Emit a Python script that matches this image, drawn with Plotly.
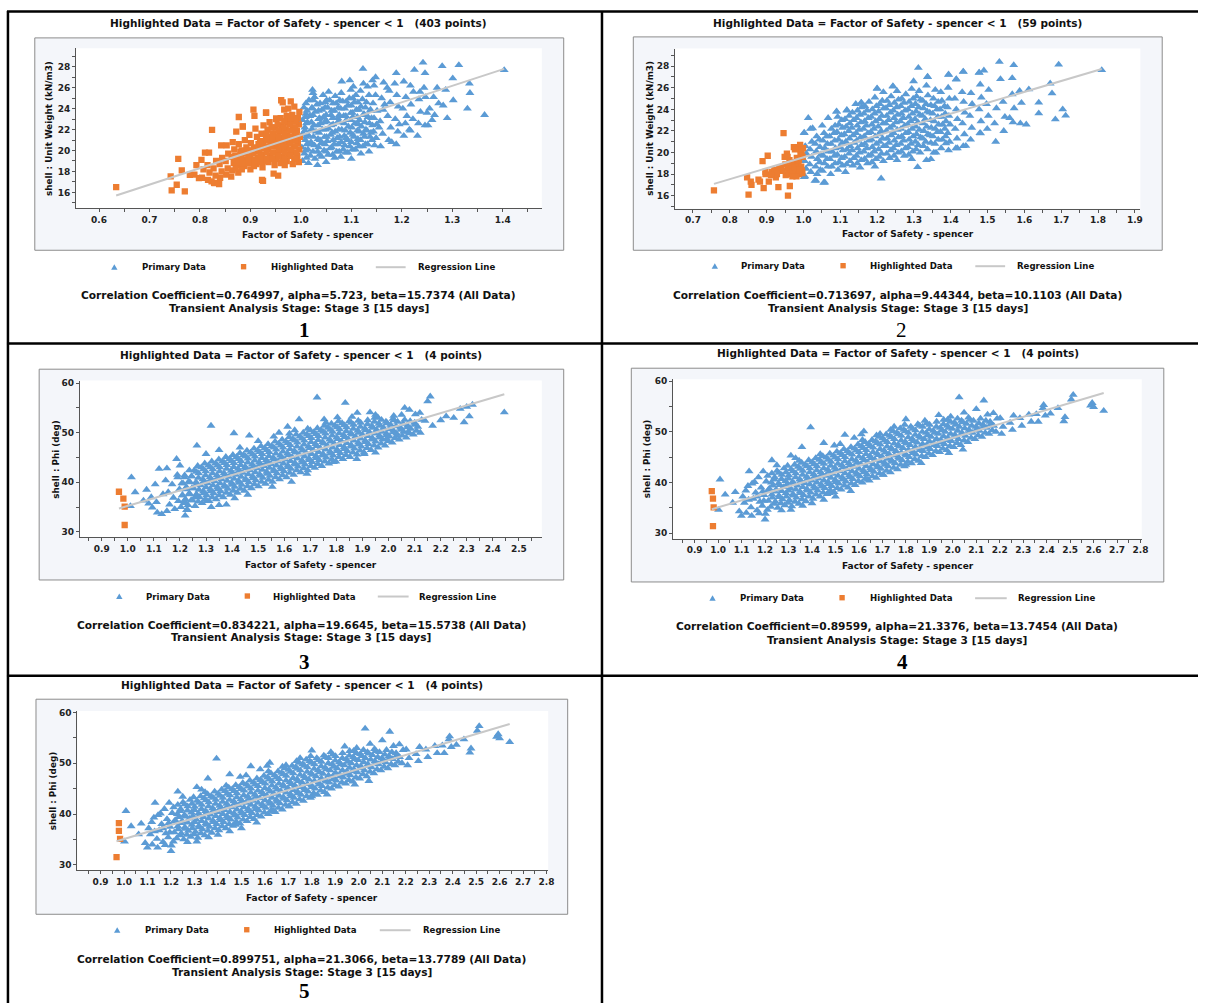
import plotly.graph_objects as go

W, H = 1205, 1003

BLUE = '#5b9bd5'
ORANGE = '#ed7d31'
REG = '#c8c8c8'
AX = '#555555'
FONT = 'DejaVu Sans'

# ---------------- data ----------------
P1_PRIMARY = [
    (1.003,19.0),(1.007,19.7),(1.002,20.3),(1.009,21.0),(1.004,21.6),(1.008,22.2),(1.003,22.9),(1.010,23.5),(1.006,24.1),
    (1.015,18.8),(1.019,19.5),(1.014,20.1),(1.020,20.8),(1.016,21.4),(1.021,22.0),(1.013,22.7),(1.018,23.3),(1.022,24.0),(1.016,24.8),(1.024,25.5),
    (1.028,19.2),(1.033,19.9),(1.027,20.5),(1.034,21.1),(1.030,21.8),(1.026,22.4),(1.035,23.0),(1.029,23.7),(1.032,24.4),(1.027,25.1),(1.023,25.8),(1.033,18.6),
    (1.041,19.4),(1.046,20.0),(1.040,20.7),(1.047,21.3),(1.043,22.0),(1.039,22.6),(1.045,23.2),(1.042,23.9),(1.048,24.6),(1.044,25.3),
    (1.054,19.6),(1.058,20.2),(1.052,20.9),(1.059,21.5),(1.055,22.1),(1.051,22.8),(1.060,23.4),(1.053,24.1),(1.057,24.8),(1.055,25.6),(1.050,18.9),
    (1.067,19.3),(1.071,19.9),(1.066,20.6),(1.072,21.2),(1.068,21.8),(1.064,22.5),(1.073,23.1),(1.066,23.8),(1.070,24.5),(1.068,25.2),
    (1.079,19.4),(1.084,20.1),(1.080,20.8),(1.086,21.4),(1.081,22.0),(1.077,22.7),(1.085,23.3),(1.079,24.0),(1.083,24.7),(1.080,25.5),(1.081,26.6),
    (1.093,19.8),(1.097,20.4),(1.092,21.0),(1.098,21.7),(1.094,22.3),(1.090,22.9),(1.099,23.6),(1.093,24.3),(1.096,25.0),(1.099,25.8),(1.097,26.7),(1.100,19.2),
    (1.108,20.1),(1.111,20.7),(1.105,21.3),(1.112,21.9),(1.107,22.6),(1.103,23.2),(1.110,23.9),(1.106,24.6),(1.109,25.3),(1.104,26.1),
    (1.119,19.7),(1.123,20.4),(1.118,21.0),(1.124,21.6),(1.120,22.3),(1.116,22.9),(1.125,23.5),(1.119,24.2),(1.122,24.9),(1.118,25.7),(1.124,26.4),(1.123,27.8),
    (1.135,19.9),(1.132,20.6),(1.137,21.3),(1.131,21.9),(1.136,22.6),(1.133,23.2),(1.138,23.9),(1.130,24.6),(1.135,25.3),(1.132,26.1),
    (1.146,20.5),(1.149,21.2),(1.144,21.8),(1.150,22.5),(1.145,23.1),(1.151,23.8),(1.143,24.5),(1.148,25.3),(1.145,26.2),(1.148,27.0),(1.142,26.7),
    (1.158,20.4),(1.162,21.6),(1.157,22.8),(1.163,23.9),(1.160,25.0),(1.164,26.5),(1.155,22.2),(1.166,24.4),
    (1.174,21.0),(1.178,22.2),(1.172,23.3),(1.177,24.6),(1.175,25.7),(1.180,20.8),(1.171,26.0),
    (1.189,20.6),(1.192,21.8),(1.187,23.0),(1.193,24.2),(1.190,25.3),(1.186,26.4),(1.189,27.4),(1.195,22.5),
    (1.204,21.4),(1.207,22.6),(1.202,24.0),(1.208,25.1),(1.204,26.6),(1.210,23.3),
    (1.217,21.9),(1.222,23.0),(1.218,24.4),(1.223,25.6),(1.217,26.2),(1.225,27.7),(1.215,22.0),
    (1.233,22.6),(1.237,23.7),(1.234,24.9),(1.236,25.6),(1.231,21.4),
    (1.246,22.4),(1.250,23.6),(1.247,25.1),(1.246,27.4),(1.242,28.4),
    (1.263,25.1),(1.273,24.5),(1.280,28.06),(1.287,25.8),(1.290,23.1),(1.301,26.9),(1.302,24.8),(1.313,28.16),
    (1.330,24.0),(1.334,26.4),(1.335,25.5),(1.364,23.4),(1.403,27.68),(1.260,22.9),(1.270,26.0),(1.255,24.0),
    (1.252,22.4),(1.265,23.4),(1.244,26.0),(1.282,24.3),
    # dense core
    (1.011,19.3),(1.009,20.0),(1.012,20.6),(1.010,21.3),(1.008,21.9),(1.011,22.6),(1.009,23.2),(1.012,23.8),(1.010,24.5),
    (1.024,19.9),(1.022,20.6),(1.025,21.3),(1.023,22.0),(1.021,22.7),(1.024,23.4),(1.022,24.1),(1.025,24.8),
    (1.037,19.6),(1.035,20.3),(1.038,21.0),(1.036,21.7),(1.034,22.4),(1.037,23.1),(1.035,23.8),(1.038,24.5),
    (1.050,19.9),(1.048,20.6),(1.051,21.3),(1.049,22.0),(1.047,22.7),(1.050,23.4),(1.048,24.1),(1.051,24.8),
    (1.063,19.6),(1.061,20.3),(1.064,21.0),(1.062,21.7),(1.060,22.4),(1.063,23.1),(1.061,23.8),(1.064,24.5),
    (1.076,19.9),(1.074,20.6),(1.077,21.3),(1.075,22.0),(1.073,22.7),(1.076,23.4),(1.074,24.1),(1.077,24.8),
    (1.089,19.8),(1.087,20.5),(1.090,21.2),(1.088,21.9),(1.086,22.6),(1.089,23.3),(1.087,24.0),(1.090,24.7),
    (1.102,20.1),(1.100,20.8),(1.103,21.5),(1.101,22.2),(1.099,22.9),(1.102,23.6),(1.100,24.3),(1.103,25.0),
    (1.115,20.4),(1.113,21.1),(1.116,21.8),(1.114,22.5),(1.112,23.2),(1.115,23.9),(1.113,24.6),
    (1.128,20.6),(1.126,21.3),(1.129,22.0),(1.127,22.7),(1.125,23.4),(1.128,24.1),
    (1.141,21.0),(1.139,21.7),(1.142,22.4),(1.140,23.1),(1.138,23.8),
]
P1_HIGHLIGHT = [
    (0.996,18.9),(0.993,19.5),(0.997,20.1),(0.994,20.7),(0.998,21.3),(0.992,21.9),(0.996,22.5),(0.994,23.1),(0.997,23.7),
    (0.984,18.7),(0.987,19.2),(0.983,19.8),(0.986,20.4),(0.982,21.0),(0.988,21.6),(0.984,22.2),(0.986,22.8),(0.983,23.4),(0.987,24.2),
    (0.972,19.0),(0.975,19.6),(0.971,20.2),(0.976,20.8),(0.973,21.4),(0.970,22.0),(0.974,22.7),(0.972,23.3),(0.975,24.0),(0.980,24.7),(0.968,18.6),
    (0.960,18.8),(0.963,19.4),(0.959,20.0),(0.964,20.6),(0.961,21.2),(0.958,21.8),(0.962,22.4),(0.960,23.1),(0.964,24.6),(0.967,23.9),
    (0.948,18.6),(0.951,19.2),(0.947,19.8),(0.952,20.4),(0.949,21.0),(0.946,21.6),(0.950,22.2),(0.951,23.0),(0.955,17.6),
    (0.936,18.9),(0.939,19.5),(0.935,20.1),(0.940,20.7),(0.937,21.3),(0.934,22.0),(0.938,22.7),(0.931,23.6),
    (0.924,18.4),(0.927,19.0),(0.923,19.6),(0.928,20.2),(0.925,20.9),(0.922,21.6),(0.926,22.4),(0.923,17.2),
    (0.912,18.7),(0.915,19.3),(0.911,19.9),(0.916,20.6),(0.913,21.3),(0.910,22.1),(0.908,23.3),
    (0.900,18.2),(0.903,18.8),(0.899,19.4),(0.904,20.0),(0.901,20.7),(0.898,21.5),(0.906,23.9),
    (0.888,18.5),(0.891,19.1),(0.887,19.7),(0.892,20.3),(0.889,21.0),(0.885,22.3),
    (0.876,17.9),(0.879,18.6),(0.875,19.2),(0.880,19.9),(0.877,20.6),(0.872,21.8),(0.877,23.2),
    (0.864,18.1),(0.867,18.8),(0.863,19.4),(0.868,20.1),(0.865,20.8),(0.862,17.5),
    (0.852,17.7),(0.855,18.3),(0.851,19.0),(0.856,19.7),(0.853,20.5),
    (0.840,17.4),(0.843,18.0),(0.839,18.7),(0.844,19.3),(0.842,20.5),(0.838,16.8),
    (0.828,16.9),(0.831,17.6),(0.827,18.3),(0.832,19.0),
    (0.816,17.2),(0.819,17.9),(0.815,18.6),(0.818,19.8),
    (0.804,17.4),(0.807,18.2),(0.803,19.1),(0.810,19.8),
    (0.789,17.7),(0.793,18.6),
    (0.634,16.5),(0.744,16.19),(0.770,16.1),(0.754,16.73),(0.742,17.52),(0.757,19.2),(0.764,18.1),(0.780,17.68),
    (0.798,17.37),(0.824,21.97),(0.823,17.05),(0.829,16.89),(0.885,22.29),(0.931,23.65),(0.951,23.08),(0.961,24.8),
    (0.925,17.1),(0.946,17.8),
    # dense core
    (0.990,19.2),(0.991,19.8),(0.989,20.4),(0.990,21.0),(0.991,21.6),(0.989,22.2),(0.990,22.8),
    (0.979,19.5),(0.980,20.1),(0.978,20.7),(0.979,21.3),(0.980,21.9),(0.978,22.5),(0.979,23.1),
    (0.967,19.2),(0.968,19.8),(0.966,20.4),(0.967,21.0),(0.968,21.6),(0.966,22.2),(0.967,22.8),
    (0.955,19.5),(0.956,20.1),(0.954,20.7),(0.955,21.3),(0.956,21.9),(0.954,22.5),
    (0.943,19.2),(0.944,19.8),(0.942,20.4),(0.943,21.0),(0.944,21.6),(0.942,22.2),
    (0.931,19.2),(0.932,19.8),(0.930,20.4),(0.931,21.0),(0.932,21.6),
    (0.919,18.9),(0.920,19.5),(0.918,20.1),(0.919,20.7),
    (0.907,18.5),(0.908,19.1),(0.906,19.7),(0.907,20.3),
    (0.895,18.8),(0.896,19.4),(0.894,20.0),
    (0.883,18.2),(0.884,18.8),(0.882,19.4),(0.883,20.0),
    (0.871,18.3),(0.872,18.9),(0.870,19.5),
]

P2_PRIMARY = [
    (1.004,17.8),(1.007,18.5),(1.003,19.2),(1.008,19.9),(1.005,20.6),(1.002,21.8),
    (1.020,18.2),(1.017,18.9),(1.022,19.6),(1.018,20.3),(1.023,21.0),(1.019,22.2),
    (1.034,17.4),(1.037,18.0),(1.033,18.7),(1.038,19.4),(1.035,20.1),(1.032,20.8),(1.036,21.5),(1.013,23.2),
    (1.055,17.2),(1.052,18.3),(1.057,19.0),(1.054,19.7),(1.058,20.4),(1.053,21.1),(1.056,21.8),(1.051,22.5),
    (1.074,18.0),(1.077,18.7),(1.072,19.4),(1.078,20.1),(1.075,20.8),(1.071,21.5),(1.076,22.2),(1.067,23.2),
    (1.094,18.4),(1.097,19.1),(1.092,19.8),(1.098,20.5),(1.095,21.2),(1.091,21.9),(1.096,22.6),(1.093,23.3),(1.090,23.8),
    (1.114,18.2),(1.117,18.9),(1.112,19.6),(1.118,20.3),(1.115,21.0),(1.111,21.7),(1.116,22.4),(1.113,23.1),(1.118,23.9),
    (1.134,18.8),(1.137,19.5),(1.132,20.2),(1.138,20.9),(1.135,21.6),(1.131,22.3),(1.136,23.0),(1.133,23.7),(1.142,24.5),
    (1.154,18.6),(1.157,19.3),(1.152,20.0),(1.158,20.7),(1.155,21.4),(1.151,22.1),(1.156,22.8),(1.153,23.5),(1.158,24.2),(1.157,24.6),
    (1.174,19.0),(1.177,19.7),(1.172,20.4),(1.178,21.1),(1.175,21.8),(1.171,22.5),(1.176,23.2),(1.173,23.9),(1.178,24.7),
    (1.194,18.7),(1.197,19.4),(1.192,20.1),(1.198,20.8),(1.195,21.5),(1.191,22.2),(1.196,22.9),(1.193,23.6),(1.198,24.3),(1.194,25.1),(1.200,25.9),
    (1.211,17.6),(1.217,19.2),(1.212,19.9),(1.218,20.6),(1.215,21.3),(1.211,22.0),(1.216,22.7),(1.213,23.4),(1.218,24.1),(1.214,24.8),(1.217,25.6),
    (1.234,19.5),(1.237,20.2),(1.232,20.9),(1.238,21.6),(1.235,22.3),(1.231,23.0),(1.236,23.7),(1.233,24.4),(1.238,25.2),(1.243,26.1),
    (1.254,19.3),(1.257,20.0),(1.252,20.7),(1.258,21.4),(1.255,22.1),(1.251,22.8),(1.256,23.5),(1.253,24.2),(1.258,24.9),(1.254,25.7),
    (1.274,19.7),(1.277,20.4),(1.272,21.1),(1.278,21.8),(1.275,22.5),(1.271,23.2),(1.276,23.9),(1.273,24.6),(1.278,25.4),
    (1.294,19.4),(1.297,20.1),(1.292,20.8),(1.298,21.5),(1.295,22.2),(1.291,22.9),(1.296,23.6),(1.293,24.3),(1.298,25.0),(1.294,25.9),(1.299,26.6),
    (1.310,18.65),(1.317,20.0),(1.312,20.7),(1.318,21.4),(1.315,22.1),(1.311,22.8),(1.316,23.5),(1.313,24.2),(1.318,24.9),(1.314,25.7),(1.312,27.85),
    (1.334,19.3),(1.337,20.3),(1.332,21.0),(1.338,21.7),(1.335,22.4),(1.331,23.1),(1.336,23.8),(1.333,24.5),(1.338,25.3),(1.334,26.2),(1.337,27.0),
    (1.354,20.0),(1.357,20.8),(1.352,21.5),(1.358,22.2),(1.355,22.9),(1.351,23.6),(1.356,24.3),(1.353,25.0),(1.358,25.8),
    (1.374,20.4),(1.377,21.2),(1.372,21.9),(1.378,22.6),(1.375,23.3),(1.371,24.0),(1.376,24.8),(1.373,25.6),
    (1.394,20.2),(1.397,21.0),(1.392,21.8),(1.398,22.6),(1.395,23.4),(1.391,24.2),(1.396,25.0),(1.393,26.0),(1.394,27.2),
    (1.414,20.4),(1.417,21.3),(1.412,22.2),(1.418,23.1),(1.415,24.0),(1.411,25.0),(1.415,26.8),
    (1.434,20.6),(1.437,21.7),(1.432,22.7),(1.438,23.7),(1.435,24.7),(1.431,25.6),(1.434,27.5),
    (1.454,21.2),(1.457,22.3),(1.452,23.4),(1.458,24.5),(1.455,25.5),
    (1.479,21.8),(1.482,22.9),(1.477,24.0),(1.483,25.1),(1.480,26.3),(1.477,27.4),
    (1.499,22.2),(1.502,23.4),(1.497,24.5),(1.503,25.8),(1.490,27.6),
    (1.522,21.0),(1.519,22.7),(1.524,24.1),(1.535,26.8),
    (1.544,22.0),(1.547,23.3),(1.542,24.7),(1.532,28.4),
    (1.569,22.8),(1.572,24.1),(1.567,25.4),(1.567,26.9),(1.571,28.1),
    (1.589,22.7),(1.592,24.6),(1.587,25.7),
    (1.612,25.85),(1.639,24.62),(1.639,23.63),(1.670,26.4),(1.675,25.48),(1.684,23.08),(1.693,28.15),
    (1.704,24.0),(1.712,23.42),(1.810,27.63),(1.605,22.6),(1.560,23.2),
    (1.002,17.73),(1.031,17.39),(1.058,17.23),(1.346,19.39),(1.360,20.0),(1.418,20.4),(1.441,20.62),
    (1.387,20.86),(1.481,21.79),(1.002,21.85),(1.025,22.25),(1.090,23.79),(1.118,23.94),(1.157,24.62),
    (1.200,25.94),(1.243,26.15),(1.337,27.02),(1.394,27.23),(1.415,26.77),(1.434,27.48),(1.477,27.39),
    # dense core
    (1.046,18.4),(1.044,19.1),(1.047,19.8),(1.045,20.5),(1.043,21.2),
    (1.066,18.7),(1.064,19.4),(1.067,20.1),(1.065,20.8),(1.063,21.5),
    (1.086,19.0),(1.084,19.7),(1.087,20.4),(1.085,21.1),(1.083,21.8),(1.086,22.5),
    (1.106,18.8),(1.104,19.5),(1.107,20.2),(1.105,20.9),(1.103,21.6),(1.106,22.3),(1.104,23.0),
    (1.126,19.2),(1.124,19.9),(1.127,20.6),(1.125,21.3),(1.123,22.0),(1.126,22.7),(1.124,23.4),
    (1.146,19.0),(1.144,19.7),(1.147,20.4),(1.145,21.1),(1.143,21.8),(1.146,22.5),(1.144,23.2),(1.147,23.9),
    (1.166,19.4),(1.164,20.1),(1.167,20.8),(1.165,21.5),(1.163,22.2),(1.166,22.9),(1.164,23.6),(1.167,24.3),
    (1.186,19.1),(1.184,19.8),(1.187,20.5),(1.185,21.2),(1.183,21.9),(1.186,22.6),(1.184,23.3),(1.187,24.0),
    (1.206,19.6),(1.204,20.3),(1.207,21.0),(1.205,21.7),(1.203,22.4),(1.206,23.1),(1.204,23.8),(1.207,24.5),
    (1.226,19.9),(1.224,20.6),(1.227,21.3),(1.225,22.0),(1.223,22.7),(1.226,23.4),(1.224,24.1),(1.227,24.8),
    (1.246,19.7),(1.244,20.4),(1.247,21.1),(1.245,21.8),(1.243,22.5),(1.246,23.2),(1.244,23.9),(1.247,24.6),
    (1.266,20.1),(1.264,20.8),(1.267,21.5),(1.265,22.2),(1.263,22.9),(1.266,23.6),(1.264,24.3),(1.267,25.0),
    (1.286,19.8),(1.284,20.5),(1.287,21.2),(1.285,21.9),(1.283,22.6),(1.286,23.3),(1.284,24.0),(1.287,24.7),
    (1.306,20.3),(1.304,21.0),(1.307,21.7),(1.305,22.4),(1.303,23.1),(1.306,23.8),(1.304,24.5),(1.307,25.2),
    (1.326,20.6),(1.324,21.3),(1.327,22.0),(1.325,22.7),(1.323,23.4),(1.326,24.1),(1.324,24.8),
    (1.346,20.9),(1.344,21.6),(1.347,22.3),(1.345,23.0),(1.343,23.7),(1.346,24.4),
    (1.366,21.2),(1.364,21.9),(1.367,22.6),(1.365,23.3),(1.363,24.0),(1.366,24.7),
    (1.386,21.5),(1.384,22.2),(1.387,22.9),(1.385,23.6),(1.383,24.3),
]
P2_HIGHLIGHT = [
    (0.757,16.5),(0.847,17.7),(0.851,16.1),(0.857,17.3),(0.859,17.0),(0.878,17.5),(0.889,19.2),(0.892,16.7),
    (0.903,19.7),(0.897,18.0),(0.906,17.3),(0.915,18.2),(0.921,18.4),(0.925,17.7),(0.932,16.8),(0.934,18.5),
    (0.940,18.6),(0.946,21.8),(0.949,19.6),(0.955,19.9),(0.958,16.0),(0.963,16.9),(0.960,18.3),(0.965,18.0),
    (0.969,18.8),(0.974,20.5),(0.978,19.0),(0.984,18.5),(0.991,20.7),(0.995,20.1),(0.996,18.3),(0.998,19.6),
    (0.952,17.9),(0.958,18.6),(0.962,19.3),(0.967,19.1),(0.971,18.2),(0.975,18.6),(0.979,18.1),(0.982,19.5),
    (0.986,19.0),(0.988,18.0),(0.992,19.9),(0.994,18.7),(0.997,18.1),(0.999,20.4),(0.993,20.3),(0.988,19.3),
    (0.944,18.3),(0.957,19.6),(0.928,18.0),(0.970,17.8),(0.981,17.8),(0.990,18.4),(0.912,17.9),(0.897,18.2),
    (0.882,17.3),(0.951,18.9),(0.977,20.3),
]

P3_PRIMARY = [
    (1.204,35.0),(1.194,36.2),(1.209,37.4),(1.198,38.6),(1.207,39.8),(1.191,41.0),
    (1.231,35.4),(1.221,36.6),(1.236,37.8),(1.225,39.0),(1.234,40.2),(1.218,41.4),
    (1.258,35.2),(1.248,36.4),(1.263,37.6),(1.252,38.8),(1.261,40.0),(1.245,41.2),(1.255,42.4),
    (1.285,35.8),(1.275,37.0),(1.290,38.2),(1.279,39.4),(1.288,40.6),(1.272,41.8),(1.282,43.0),
    (1.312,36.2),(1.302,37.4),(1.317,38.6),(1.306,39.8),(1.315,41.0),(1.299,42.2),(1.309,43.4),
    (1.339,36.6),(1.329,37.8),(1.344,39.0),(1.333,40.2),(1.342,41.4),(1.326,42.6),(1.336,43.8),
    (1.366,37.0),(1.356,38.2),(1.371,39.4),(1.360,40.6),(1.369,41.8),(1.353,43.0),(1.363,44.2),
    (1.393,37.5),(1.383,38.7),(1.398,39.9),(1.387,41.1),(1.396,42.3),(1.380,43.5),(1.390,44.7),
    (1.420,37.9),(1.410,39.1),(1.425,40.3),(1.414,41.5),(1.423,42.7),(1.407,43.9),(1.417,45.1),
    (1.447,38.3),(1.437,39.5),(1.452,40.7),(1.441,41.9),(1.450,43.1),(1.434,44.3),(1.444,45.5),
    (1.474,38.8),(1.464,40.0),(1.479,41.2),(1.468,42.4),(1.477,43.6),(1.461,44.8),(1.471,46.0),
    (1.501,39.2),(1.491,40.4),(1.506,41.6),(1.495,42.8),(1.504,44.0),(1.488,45.2),(1.498,46.4),
    (1.528,39.7),(1.518,40.9),(1.533,42.1),(1.522,43.3),(1.531,44.5),(1.515,45.7),(1.525,46.9),
    (1.555,40.1),(1.545,41.3),(1.560,42.5),(1.549,43.7),(1.558,44.9),(1.542,46.1),(1.552,47.3),
    (1.582,40.6),(1.572,41.8),(1.587,43.0),(1.576,44.2),(1.585,45.4),(1.569,46.6),(1.579,47.8),
    (1.609,41.0),(1.599,42.2),(1.614,43.4),(1.603,44.6),(1.612,45.8),(1.596,47.0),(1.606,48.2),
    (1.636,41.5),(1.626,42.7),(1.641,43.9),(1.630,45.1),(1.639,46.3),(1.623,47.5),(1.633,48.7),
    (1.663,42.0),(1.653,43.2),(1.668,44.4),(1.657,45.6),(1.666,46.8),(1.650,48.0),(1.660,49.2),
    (1.690,42.4),(1.680,43.6),(1.695,44.8),(1.684,46.0),(1.693,47.2),(1.677,48.4),(1.687,49.6),
    (1.717,42.9),(1.707,44.1),(1.722,45.3),(1.711,46.5),(1.720,47.7),(1.704,48.9),(1.714,50.1),
    (1.744,43.3),(1.734,44.5),(1.749,45.7),(1.738,46.9),(1.747,48.1),(1.731,49.3),(1.741,50.5),
    (1.771,43.8),(1.761,45.0),(1.776,46.2),(1.765,47.4),(1.774,48.6),(1.758,49.8),(1.768,51.0),
    (1.798,44.2),(1.788,45.4),(1.803,46.6),(1.792,47.8),(1.801,49.0),(1.785,50.2),(1.795,51.4),
    (1.825,44.7),(1.815,45.9),(1.830,47.1),(1.819,48.3),(1.828,49.5),(1.812,50.7),(1.822,51.9),
    (1.852,45.1),(1.842,46.3),(1.857,47.5),(1.846,48.7),(1.855,49.9),(1.839,51.1),(1.849,52.3),
    (1.879,45.6),(1.869,46.8),(1.884,48.0),(1.873,49.2),(1.882,50.4),(1.866,51.6),
    (1.906,46.0),(1.896,47.2),(1.911,48.4),(1.900,49.6),(1.909,50.8),(1.893,52.0),
    (1.933,46.5),(1.923,47.7),(1.938,48.9),(1.927,50.1),(1.936,51.3),(1.920,52.5),
    (1.960,47.0),(1.950,48.2),(1.965,49.4),(1.954,50.6),(1.963,51.8),(1.947,53.0),
    (1.987,47.4),(1.977,48.6),(1.992,49.8),(1.981,51.0),(1.990,52.2),
    (2.014,48.0),(2.004,49.2),(2.019,50.4),(2.008,51.6),(2.017,52.8),
    (2.041,48.6),(2.031,49.8),(2.046,51.0),(2.035,52.2),
    (2.068,49.0),(2.058,50.2),(2.073,51.4),(2.062,52.6),
    (2.095,49.6),(2.085,50.8),(2.100,52.0),
    (2.122,50.0),(2.112,51.2),(2.127,52.6),
    (2.444,54.1),(2.322,55.64),(2.290,52.1),(2.275,54.8),(2.250,53.0),(2.221,53.3),(2.160,57.3),(2.150,56.3),
    (2.169,51.4),(2.140,52.4),(2.103,53.7),(2.062,55.0),(2.080,54.6),(2.076,50.2),(2.032,49.4),(1.993,48.8),
    (1.959,53.1),(1.929,54.1),(1.834,56.0),(1.880,54.0),(1.804,53.1),(1.753,52.7),(1.726,57.1),(1.657,52.7),
    (1.613,51.2),(1.466,49.4),(1.407,49.9),(1.319,51.4),(1.265,47.4),(1.187,44.7),(1.150,42.8),(1.120,42.7),
    (1.014,41.0),(1.028,38.0),(1.010,35.2),(1.072,38.5),(1.094,34.9),(1.113,33.9),(1.130,33.6),(1.220,33.3),
    (1.225,34.4),(1.215,35.8),(1.060,36.3),(1.090,37.0),(1.110,36.0),(1.135,37.6),(1.160,35.5),(1.170,39.6),
    (1.105,39.6),(1.145,40.4),(1.155,38.0),(1.175,36.9),(1.190,41.5),(1.200,43.4),(1.180,34.6),(1.230,34.4),
    (1.304,36.2),(1.378,35.5),(1.320,35.0),(1.350,35.4),(1.410,36.8),(1.460,37.5),(1.554,39.1),(1.628,40.1),
    (1.687,41.7),(1.789,44.1),(1.878,44.7),(1.907,45.7),(1.950,46.0),(1.300,45.7),(1.350,46.5),(1.430,47.0),
    (1.500,48.3),(1.560,49.2),(1.620,49.8),(1.690,50.8),(1.760,52.0),(1.860,53.2),(1.950,53.6),(2.050,53.6),
    (2.200,52.5),(2.310,53.3),(2.300,55.2),(2.120,54.0),(2.020,53.4),(1.640,50.5),(1.580,50.0),(1.150,34.2),
    (1.080,35.7),(1.260,37.0),
    # dense core
    (1.216,36.2),(1.210,37.4),(1.219,38.6),(1.212,39.8),(1.217,41.0),
    (1.243,36.4),(1.237,37.6),(1.246,38.8),(1.239,40.0),(1.244,41.2),(1.236,42.4),
    (1.270,36.1),(1.264,37.3),(1.273,38.5),(1.266,39.7),(1.271,40.9),(1.263,42.1),(1.268,43.3),
    (1.297,36.6),(1.291,37.8),(1.300,39.0),(1.293,40.2),(1.298,41.4),(1.290,42.6),(1.295,43.8),
    (1.324,37.0),(1.318,38.2),(1.327,39.4),(1.320,40.6),(1.325,41.8),(1.317,43.0),(1.322,44.2),
    (1.351,37.4),(1.345,38.6),(1.354,39.8),(1.347,41.0),(1.352,42.2),(1.344,43.4),(1.349,44.6),
    (1.378,37.9),(1.372,39.1),(1.381,40.3),(1.374,41.5),(1.379,42.7),(1.371,43.9),(1.376,45.1),
    (1.405,38.3),(1.399,39.5),(1.408,40.7),(1.401,41.9),(1.406,43.1),(1.398,44.3),(1.403,45.5),
    (1.432,38.7),(1.426,39.9),(1.435,41.1),(1.428,42.3),(1.433,43.5),(1.425,44.7),(1.430,45.9),
    (1.459,39.2),(1.453,40.4),(1.462,41.6),(1.455,42.8),(1.460,44.0),(1.452,45.2),(1.457,46.4),
    (1.486,39.6),(1.480,40.8),(1.489,42.0),(1.482,43.2),(1.487,44.4),(1.479,45.6),(1.484,46.8),
    (1.513,40.1),(1.507,41.3),(1.516,42.5),(1.509,43.7),(1.514,44.9),(1.506,46.1),(1.511,47.3),
    (1.540,40.5),(1.534,41.7),(1.543,42.9),(1.536,44.1),(1.541,45.3),(1.533,46.5),(1.538,47.7),
    (1.567,41.0),(1.561,42.2),(1.570,43.4),(1.563,44.6),(1.568,45.8),(1.560,47.0),(1.565,48.2),
    (1.594,41.4),(1.588,42.6),(1.597,43.8),(1.590,45.0),(1.595,46.2),(1.587,47.4),(1.592,48.6),
    (1.621,41.9),(1.615,43.1),(1.624,44.3),(1.617,45.5),(1.622,46.7),(1.614,47.9),(1.619,49.1),
    (1.648,42.4),(1.642,43.6),(1.651,44.8),(1.644,46.0),(1.649,47.2),(1.641,48.4),(1.646,49.6),
    (1.675,42.8),(1.669,44.0),(1.678,45.2),(1.671,46.4),(1.676,47.6),(1.668,48.8),(1.673,50.0),
    (1.702,43.3),(1.696,44.5),(1.705,45.7),(1.698,46.9),(1.703,48.1),(1.695,49.3),(1.700,50.5),
    (1.729,43.7),(1.723,44.9),(1.732,46.1),(1.725,47.3),(1.730,48.5),(1.722,49.7),(1.727,50.9),
    (1.756,44.2),(1.750,45.4),(1.759,46.6),(1.752,47.8),(1.757,49.0),(1.749,50.2),(1.754,51.4),
    (1.783,44.6),(1.777,45.8),(1.786,47.0),(1.779,48.2),(1.784,49.4),(1.776,50.6),(1.781,51.8),
    (1.810,45.1),(1.804,46.3),(1.813,47.5),(1.806,48.7),(1.811,49.9),(1.803,51.1),(1.808,52.3),
    (1.837,45.5),(1.831,46.7),(1.840,47.9),(1.833,49.1),(1.838,50.3),(1.830,51.5),
    (1.864,46.0),(1.858,47.2),(1.867,48.4),(1.860,49.6),(1.865,50.8),(1.857,52.0),
    (1.891,46.4),(1.885,47.6),(1.894,48.8),(1.887,50.0),(1.892,51.2),(1.884,52.4),
    (1.918,46.9),(1.912,48.1),(1.921,49.3),(1.914,50.5),(1.919,51.7),
    (1.945,47.4),(1.939,48.6),(1.948,49.8),(1.941,51.0),(1.946,52.2),
    (1.972,47.8),(1.966,49.0),(1.975,50.2),(1.968,51.4),(1.973,52.6),
    (1.999,48.3),(1.993,49.5),(2.002,50.7),(1.995,51.9),
    (2.026,48.9),(2.020,50.1),(2.029,51.3),(2.022,52.5),
    (2.053,49.4),(2.047,50.6),(2.056,51.8),
    (2.080,49.9),(2.074,51.1),(2.083,52.3),
    (2.107,50.4),(2.101,51.6),
]
P3_HIGHLIGHT = [(0.966,38.1),(0.983,36.7),(0.988,35.1),(0.988,31.4)]

# panels 4 and 5 show the same scatter of Phi against the factor of safety
P45_PRIMARY = [
    (1.002,34.6),(1.008,40.6),(1.030,37.6),(1.062,36.0),(1.073,38.1),(1.090,34.3),(1.099,33.4),(1.105,37.2),
    (1.112,36.0),(1.118,38.4),(1.127,39.3),(1.132,42.2),(1.140,35.1),(1.143,33.4),(1.150,36.8),(1.155,40.1),
    (1.160,38.0),(1.166,34.5),(1.172,41.0),(1.178,36.2),(1.183,39.0),(1.188,35.4),(1.192,42.2),(1.196,37.5),
    (1.200,32.7),(1.202,33.8),(1.205,40.2),(1.210,34.6),(1.214,38.5),(1.130,36.6),(1.165,37.2),(1.190,38.2),
    (1.175,33.9),(1.120,34.0),(1.145,39.8),(1.195,36.4),
    (1.224,35.2),(1.214,36.4),(1.229,37.6),(1.218,38.8),(1.227,40.0),(1.211,41.3),(1.229,44.4),
    (1.254,35.0),(1.244,36.2),(1.259,37.4),(1.248,38.6),(1.257,39.8),(1.241,41.0),(1.251,42.3),
    (1.284,35.5),(1.274,36.7),(1.289,37.9),(1.278,39.1),(1.287,40.3),(1.271,41.5),(1.281,42.8),
    (1.314,35.3),(1.304,36.5),(1.319,37.7),(1.308,38.9),(1.317,40.1),(1.301,41.4),(1.311,42.6),(1.310,45.3),
    (1.344,35.8),(1.334,37.0),(1.349,38.2),(1.338,39.4),(1.347,40.6),(1.331,41.8),(1.341,43.1),(1.345,44.3),
    (1.374,36.3),(1.364,37.5),(1.379,38.7),(1.368,39.9),(1.377,41.1),(1.361,42.3),(1.371,43.5),(1.357,47.0),
    (1.404,36.8),(1.394,38.0),(1.409,39.2),(1.398,40.4),(1.407,41.6),(1.391,42.8),(1.401,44.0),(1.394,50.9),
    (1.434,37.2),(1.424,38.4),(1.439,39.6),(1.428,40.8),(1.437,42.0),(1.421,43.2),(1.431,44.5),(1.435,45.6),
    (1.464,37.7),(1.454,38.9),(1.469,40.1),(1.458,41.3),(1.467,42.5),(1.451,43.7),(1.461,44.9),
    (1.494,38.1),(1.484,39.3),(1.499,40.5),(1.488,41.7),(1.497,42.9),(1.481,44.1),(1.491,45.3),(1.495,47.3),
    (1.524,38.6),(1.514,39.8),(1.529,41.0),(1.518,42.2),(1.527,43.4),(1.511,44.6),(1.521,45.8),
    (1.554,39.0),(1.544,40.2),(1.559,41.4),(1.548,42.6),(1.557,43.8),(1.541,45.0),(1.551,46.2),(1.540,49.4),
    (1.584,39.5),(1.574,40.7),(1.589,41.9),(1.578,43.1),(1.587,44.3),(1.571,45.5),(1.581,46.7),
    (1.614,40.0),(1.604,41.2),(1.619,42.4),(1.608,43.6),(1.617,44.8),(1.601,46.0),(1.611,47.2),(1.615,48.4),
    (1.644,40.4),(1.634,41.6),(1.649,42.8),(1.638,44.0),(1.647,45.2),(1.631,46.4),(1.641,47.6),(1.621,50.1),
    (1.674,40.9),(1.664,42.1),(1.679,43.3),(1.668,44.5),(1.677,45.7),(1.661,46.9),(1.671,48.1),(1.675,49.3),
    (1.704,41.5),(1.694,42.7),(1.709,43.9),(1.698,45.1),(1.707,46.3),(1.691,47.5),(1.701,48.7),
    (1.734,42.0),(1.724,43.2),(1.739,44.4),(1.728,45.6),(1.737,46.8),(1.721,48.0),(1.731,49.2),(1.735,50.4),
    (1.764,42.6),(1.754,43.8),(1.769,45.0),(1.758,46.2),(1.767,47.4),(1.751,48.6),(1.761,49.8),
    (1.794,43.2),(1.784,44.4),(1.799,45.6),(1.788,46.8),(1.797,48.0),(1.781,49.2),(1.791,50.4),(1.795,51.4),
    (1.824,43.8),(1.814,45.0),(1.829,46.2),(1.818,47.4),(1.827,48.6),(1.811,49.8),(1.821,51.0),
    (1.854,44.3),(1.844,45.5),(1.859,46.7),(1.848,47.9),(1.857,49.1),(1.841,50.3),(1.851,51.5),
    (1.884,45.0),(1.874,46.2),(1.889,47.4),(1.878,48.6),(1.887,49.8),(1.871,51.0),(1.881,52.2),
    (1.914,45.4),(1.904,46.6),(1.919,47.8),(1.908,49.0),(1.917,50.2),(1.901,51.4),
    (1.944,46.0),(1.934,47.2),(1.949,48.4),(1.938,49.6),(1.947,50.8),(1.931,52.0),
    (1.974,46.4),(1.964,47.6),(1.979,48.8),(1.968,50.0),(1.977,51.2),(1.961,52.4),
    (2.004,47.0),(1.994,48.2),(2.009,49.4),(1.998,50.6),(2.007,51.8),(1.991,53.0),
    (2.034,47.4),(2.024,48.6),(2.039,49.8),(2.028,51.0),(2.037,52.2),(2.048,53.8),(2.027,56.8),
    (2.064,48.0),(2.054,49.2),(2.069,50.4),(2.058,51.6),(2.067,52.8),
    (2.094,48.6),(2.084,49.8),(2.099,51.0),(2.088,52.2),(2.100,54.5),
    (2.124,49.0),(2.114,50.2),(2.129,51.4),(2.118,52.6),(2.132,56.2),
    (2.154,49.6),(2.144,50.8),(2.159,52.0),(2.148,53.4),
    (2.184,50.0),(2.174,51.2),(2.189,52.6),(2.173,53.7),
    (2.208,49.6),(2.214,51.0),(2.202,52.7),
    (2.254,50.4),(2.244,51.8),(2.259,53.2),
    (2.294,51.2),(2.286,52.7),
    (2.334,52.0),(2.324,53.4),
    (2.364,52.0),(2.356,53.5),
    (2.394,53.2),(2.384,54.7),(2.387,55.3),
    (2.416,53.6),
    (2.448,54.7),(2.478,52.9),(2.473,52.1),
    (2.513,57.3),(2.505,56.4),(2.594,55.7),(2.587,55.2),(2.600,54.9),(2.643,54.15),
    (1.475,37.9),(1.500,37.2),(1.565,38.3),(1.638,40.6),(1.702,41.5),(1.800,43.5),(1.865,43.85),(1.983,45.8),
    (2.043,46.5),(1.310,34.6),(1.270,34.5),(1.360,35.4),(1.400,35.9),(1.450,36.6),(1.250,43.4),(1.450,47.8),
    (1.520,47.6),(1.580,48.8),(1.690,49.6),(1.750,51.0),(1.978,52.4),(1.800,52.5),(1.940,53.3),(1.610,49.5),
    (1.330,44.8),
    # dense core
    (1.238,35.8),(1.231,37.0),(1.241,38.2),(1.233,39.4),(1.240,40.6),(1.229,41.8),
    (1.268,35.9),(1.261,37.1),(1.271,38.3),(1.263,39.5),(1.270,40.7),(1.259,41.9),
    (1.298,36.0),(1.291,37.2),(1.301,38.4),(1.293,39.6),(1.300,40.8),(1.289,42.0),(1.296,43.3),
    (1.328,36.2),(1.321,37.4),(1.331,38.6),(1.323,39.8),(1.330,41.0),(1.319,42.2),(1.326,43.5),
    (1.358,36.7),(1.351,37.9),(1.361,39.1),(1.353,40.3),(1.360,41.5),(1.349,42.7),(1.356,43.9),
    (1.388,37.2),(1.381,38.4),(1.391,39.6),(1.383,40.8),(1.390,42.0),(1.379,43.2),(1.386,44.4),
    (1.418,37.6),(1.411,38.8),(1.421,40.0),(1.413,41.2),(1.420,42.4),(1.409,43.6),(1.416,44.8),
    (1.448,38.0),(1.441,39.2),(1.451,40.4),(1.443,41.6),(1.450,42.8),(1.439,44.0),(1.446,45.2),
    (1.478,38.5),(1.471,39.7),(1.481,40.9),(1.473,42.1),(1.480,43.3),(1.469,44.5),(1.476,45.7),
    (1.508,38.9),(1.501,40.1),(1.511,41.3),(1.503,42.5),(1.510,43.7),(1.499,44.9),(1.506,46.1),
    (1.538,39.4),(1.531,40.6),(1.541,41.8),(1.533,43.0),(1.540,44.2),(1.529,45.4),(1.536,46.6),
    (1.568,39.8),(1.561,41.0),(1.571,42.2),(1.563,43.4),(1.570,44.6),(1.559,45.8),(1.566,47.0),
    (1.598,40.3),(1.591,41.5),(1.601,42.7),(1.593,43.9),(1.600,45.1),(1.589,46.3),(1.596,47.5),
    (1.628,40.8),(1.621,42.0),(1.631,43.2),(1.623,44.4),(1.630,45.6),(1.619,46.8),(1.626,48.0),
    (1.658,41.2),(1.651,42.4),(1.661,43.6),(1.653,44.8),(1.660,46.0),(1.649,47.2),(1.656,48.4),
    (1.688,41.8),(1.681,43.0),(1.691,44.2),(1.683,45.4),(1.690,46.6),(1.679,47.8),(1.686,49.0),
    (1.718,42.3),(1.711,43.5),(1.721,44.7),(1.713,45.9),(1.720,47.1),(1.709,48.3),(1.716,49.5),
    (1.748,42.9),(1.741,44.1),(1.751,45.3),(1.743,46.5),(1.750,47.7),(1.739,48.9),(1.746,50.1),
    (1.778,43.5),(1.771,44.7),(1.781,45.9),(1.773,47.1),(1.780,48.3),(1.769,49.5),(1.776,50.7),
    (1.808,44.1),(1.801,45.3),(1.811,46.5),(1.803,47.7),(1.810,48.9),(1.799,50.1),
    (1.838,44.6),(1.831,45.8),(1.841,47.0),(1.833,48.2),(1.840,49.4),(1.829,50.6),
    (1.868,45.2),(1.861,46.4),(1.871,47.6),(1.863,48.8),(1.870,50.0),(1.859,51.2),
    (1.898,45.7),(1.891,46.9),(1.901,48.1),(1.893,49.3),(1.900,50.5),(1.889,51.7),
    (1.928,46.2),(1.921,47.4),(1.931,48.6),(1.923,49.8),(1.930,51.0),
    (1.958,46.7),(1.951,47.9),(1.961,49.1),(1.953,50.3),(1.960,51.5),
    (1.988,47.2),(1.981,48.4),(1.991,49.6),(1.983,50.8),(1.990,52.0),
    (2.018,47.8),(2.011,49.0),(2.021,50.2),(2.013,51.4),(2.020,52.6),
    (2.048,48.3),(2.041,49.5),(2.051,50.7),(2.043,51.9),
    (2.078,48.8),(2.071,50.0),(2.081,51.2),(2.073,52.4),
    (2.108,49.3),(2.101,50.5),(2.111,51.7),
    (2.138,49.8),(2.131,51.0),(2.141,52.2),
    (2.168,50.3),(2.161,51.5),
]
P4_HIGHLIGHT = [(0.973,38.3),(0.978,36.8),(0.981,35.1),(0.978,31.4)]
P5_HIGHLIGHT = [(0.978,38.2),(0.978,36.7),(0.983,35.1),(0.968,31.5)]

HIGHLIGHT_COUNT = [403, 59, 4, 4, 4]
CORRELATION = ['0.764997', '0.713697', '0.834221', '0.89599', '0.899751']
ALPHA = [5.723, 9.44344, 19.6645, 21.3376, 21.3066]
BETA = [15.7374, 10.1103, 15.5738, 13.7454, 13.7789]
Y_TITLES = ['shell : Unit Weight (kN/m3)', 'shell : Unit Weight (kN/m3)',
            'shell : Phi (deg)', 'shell : Phi (deg)', 'shell : Phi (deg)']
PANEL_LABELS = ['1', '2', '3', '4', '5']

PRIMARY = [P1_PRIMARY, P2_PRIMARY, P3_PRIMARY, P45_PRIMARY, P45_PRIMARY]
HIGHLIGHT = [P1_HIGHLIGHT, P2_HIGHLIGHT, P3_HIGHLIGHT, P4_HIGHLIGHT, P5_HIGHLIGHT]

# ---------------- layout geometry (pixels) ----------------
LAYOUT = [
    dict(plot=(76.5, 45.5, 545, 205.7), box=(35, 35, 567, 248), xr=[0.5545, 1.4775], yr=[14.5, 29.76],
         ydt=2, ymin=1, title=(300, 20), ytx=50, xt=(310, 232.7), ly=265,
         tri=115, pc=175.5, sq=245, hc=314, ln=(378, 408), rc=459.5, corr=(300.7, 293), tr=306,
         num=(306, 328), bold=True),
    dict(plot=(679, 45.7, 1147, 206.3), box=(637, 34, 1169, 248), xr=[0.6514, 1.9148], yr=[14.8, 29.63],
         ydt=2, ymin=1, title=(903, 20), ytx=653, xt=(913, 231.7), ly=264,
         tri=719, pc=778, sq=848, hc=917, ln=(981, 1011), rc=1062, corr=(903, 293), tr=306,
         num=(907, 328), bold=False),
    dict(plot=(80.3, 378.7, 545, 536), box=(39.4, 367.3, 567, 578.7), xr=[0.816, 2.588], yr=[28.9, 60.5],
         ydt=10, ymin=5, title=(303, 353), ytx=56, xt=(313, 563.7), ly=595.3,
         tri=120, pc=179, sq=248.8, hc=316.6, ln=(380, 411), rc=460.6, corr=(302.9, 623.7), tr=636.3,
         num=(306, 660.7), bold=True),
    dict(plot=(677, 377.3, 1148.4, 537.3), box=(635, 366.3, 1170.6, 580.7), xr=[0.808, 2.805], yr=[28.9, 60.4],
         ydt=10, ymin=5, title=(903, 351.3), ytx=651, xt=(913, 564.7), ly=597,
         tri=716.7, pc=776.6, sq=847, hc=917, ln=(980.8, 1012.6), rc=1063, corr=(902.5, 625.3), tr=638.7,
         num=(907.3, 660.7), bold=True),
    dict(plot=(77.8, 710, 551.4, 870), box=(36.2, 698.3, 571, 914), xr=[0.801, 2.807], yr=[28.9, 60.3],
         ydt=10, ymin=5, title=(303.9, 684), ytx=53, xt=(314, 897.7), ly=930,
         tri=117.9, pc=177.8, sq=248.2, hc=317.7, ln=(382, 413), rc=464, corr=(303.5, 958.7), tr=971.7,
         num=(306, 991), bold=True),
]


def fx(px):
    return px / W


def fy(py):
    return 1 - py / H


fig = go.Figure()
shapes = []
annotations = []
layout_axes = {}


def txt(x, y, text, size, bold=True, family=FONT, angle=0, color='#111111'):
    annotations.append(dict(
        x=fx(x), y=fy(y), xref='paper', yref='paper', text=text, showarrow=False,
        xanchor='center', yanchor='middle', textangle=angle,
        font=dict(family=family, size=size, color=color, weight='bold' if bold else 'normal')))


tickfont = dict(family=FONT, size=9, color='#222222', weight='bold')

for i in range(5):
    L = LAYOUT[i]
    n = i + 1
    xa = 'x' if n == 1 else f'x{n}'
    ya = 'y' if n == 1 else f'y{n}'

    pri = PRIMARY[i]
    hl = HIGHLIGHT[i]
    fig.add_trace(go.Scatter(
        x=[p[0] for p in pri], y=[p[1] for p in pri], mode='markers',
        marker=dict(symbol='triangle-up', size=7.8, color=BLUE, line=dict(width=0)),
        xaxis=xa, yaxis=ya, showlegend=False, hoverinfo='skip'))
    fig.add_trace(go.Scatter(
        x=[p[0] for p in hl], y=[p[1] for p in hl], mode='markers',
        marker=dict(symbol='square', size=6.3, color=ORANGE, line=dict(width=0)),
        xaxis=xa, yaxis=ya, showlegend=False, hoverinfo='skip'))
    allx = [p[0] for p in pri] + [p[0] for p in hl]
    x0, x1 = min(allx), max(allx)
    fig.add_trace(go.Scatter(
        x=[x0, x1], y=[ALPHA[i] + BETA[i] * x0, ALPHA[i] + BETA[i] * x1], mode='lines',
        line=dict(color=REG, width=2), xaxis=xa, yaxis=ya, showlegend=False, hoverinfo='skip'))

    pl, pt, pr, pb = L['plot']
    common_ax = dict(showgrid=False, zeroline=False, showline=True, linecolor=AX, linewidth=1,
                     ticks='outside', ticklen=3, tickcolor=AX, tickwidth=1, tickfont=tickfont,
                     fixedrange=True)
    layout_axes['xaxis' if n == 1 else f'xaxis{n}'] = dict(
        domain=[fx(pl), fx(pr)], range=L['xr'], anchor=ya, tick0=0, dtick=0.1, tickformat='.1f',
        minor=dict(dtick=0.05, ticks='outside', ticklen=3, tickcolor=AX), **common_ax)
    layout_axes['yaxis' if n == 1 else f'yaxis{n}'] = dict(
        domain=[fy(pb), fy(pt)], range=L['yr'], anchor=xa, side='left', tick0=0, dtick=L['ydt'],
        minor=dict(dtick=L['ymin'], ticks='outside', ticklen=3, tickcolor=AX), **common_ax)
    layout_axes[f'yaxis{n + 5}'] = dict(
        overlaying=ya, range=L['yr'], anchor=xa, side='right', tick0=0, dtick=L['ydt'],
        minor=dict(dtick=L['ymin'], ticks='outside', ticklen=3, tickcolor=AX), **common_ax)

    # chart box and plot area
    bl, bt, br, bb = L['box']
    shapes.append(dict(type='rect', xref='paper', yref='paper', x0=fx(bl), x1=fx(br), y0=fy(bb), y1=fy(bt),
                       fillcolor='#f4f6fa', line=dict(color='#8c8c8c', width=1), layer='below'))
    shapes.append(dict(type='rect', xref='paper', yref='paper', x0=fx(pl), x1=fx(pr), y0=fy(pb), y1=fy(pt),
                       fillcolor='#ffffff', line=dict(width=0), layer='below'))

    # texts
    txt(*L['title'], f'Highlighted Data = Factor of Safety - spencer &lt; 1\u00a0\u00a0\u00a0({HIGHLIGHT_COUNT[i]} points)', 10.5)
    txt(L['ytx'], (pt + pb) / 2, Y_TITLES[i], 8.8, angle=-90)
    txt(*L['xt'], 'Factor of Safety - spencer', 9)
    ly = L['ly']
    txt(L['pc'], ly, 'Primary Data', 8.6)
    txt(L['hc'], ly, 'Highlighted Data', 8.6)
    txt(L['rc'], ly, 'Regression Line', 8.6)
    txt(*L['corr'], f'Correlation Coefficient={CORRELATION[i]}, alpha={ALPHA[i]}, beta={BETA[i]} (All Data)', 10.6)
    txt(L['corr'][0], L['tr'], 'Transient Analysis Stage: Stage 3 [15 days]', 10.6)
    txt(*L['num'], PANEL_LABELS[i], 21, bold=L['bold'], family='Liberation Serif', color='#000000')

    # legend symbols
    t = L['tri']
    shapes.append(dict(type='path', xref='paper', yref='paper',
                       path=f'M {fx(t - 3.2)},{fy(ly + 2.6)} L {fx(t + 3.2)},{fy(ly + 2.6)} L {fx(t)},{fy(ly - 3)} Z',
                       fillcolor=BLUE, line=dict(width=0)))
    s = L['sq']
    shapes.append(dict(type='rect', xref='paper', yref='paper', x0=fx(s - 2.7), x1=fx(s + 2.7),
                       y0=fy(ly + 2.2), y1=fy(ly - 3.2), fillcolor=ORANGE, line=dict(width=0)))
    shapes.append(dict(type='line', xref='paper', yref='paper', x0=fx(L['ln'][0]), x1=fx(L['ln'][1]),
                       y0=fy(ly), y1=fy(ly), line=dict(color=REG, width=2)))

# table borders
for (x0, y0, x1, y1) in [(7, 8.5, 1205, 8.5), (7, 341.5, 1205, 341.5), (7, 674.7, 1205, 674.7),
                         (8, 8, 8, 1003), (605.5, 8, 605.5, 1003)]:
    shapes.append(dict(type='line', xref='paper', yref='paper', x0=fx(x0), x1=fx(x1), y0=fy(y0), y1=fy(y1),
                       line=dict(color='#000000', width=2.5)))

fig.update_layout(
    width=W, height=H, margin=dict(l=0, r=0, t=0, b=0),
    paper_bgcolor='#ffffff', plot_bgcolor='rgba(0,0,0,0)',
    showlegend=False, shapes=shapes, annotations=annotations, **layout_axes)

fig.write_html('out.html', config={'displayModeBar': False},
               post_script="document.body.style.margin='0px';document.body.style.overflow='hidden';")
